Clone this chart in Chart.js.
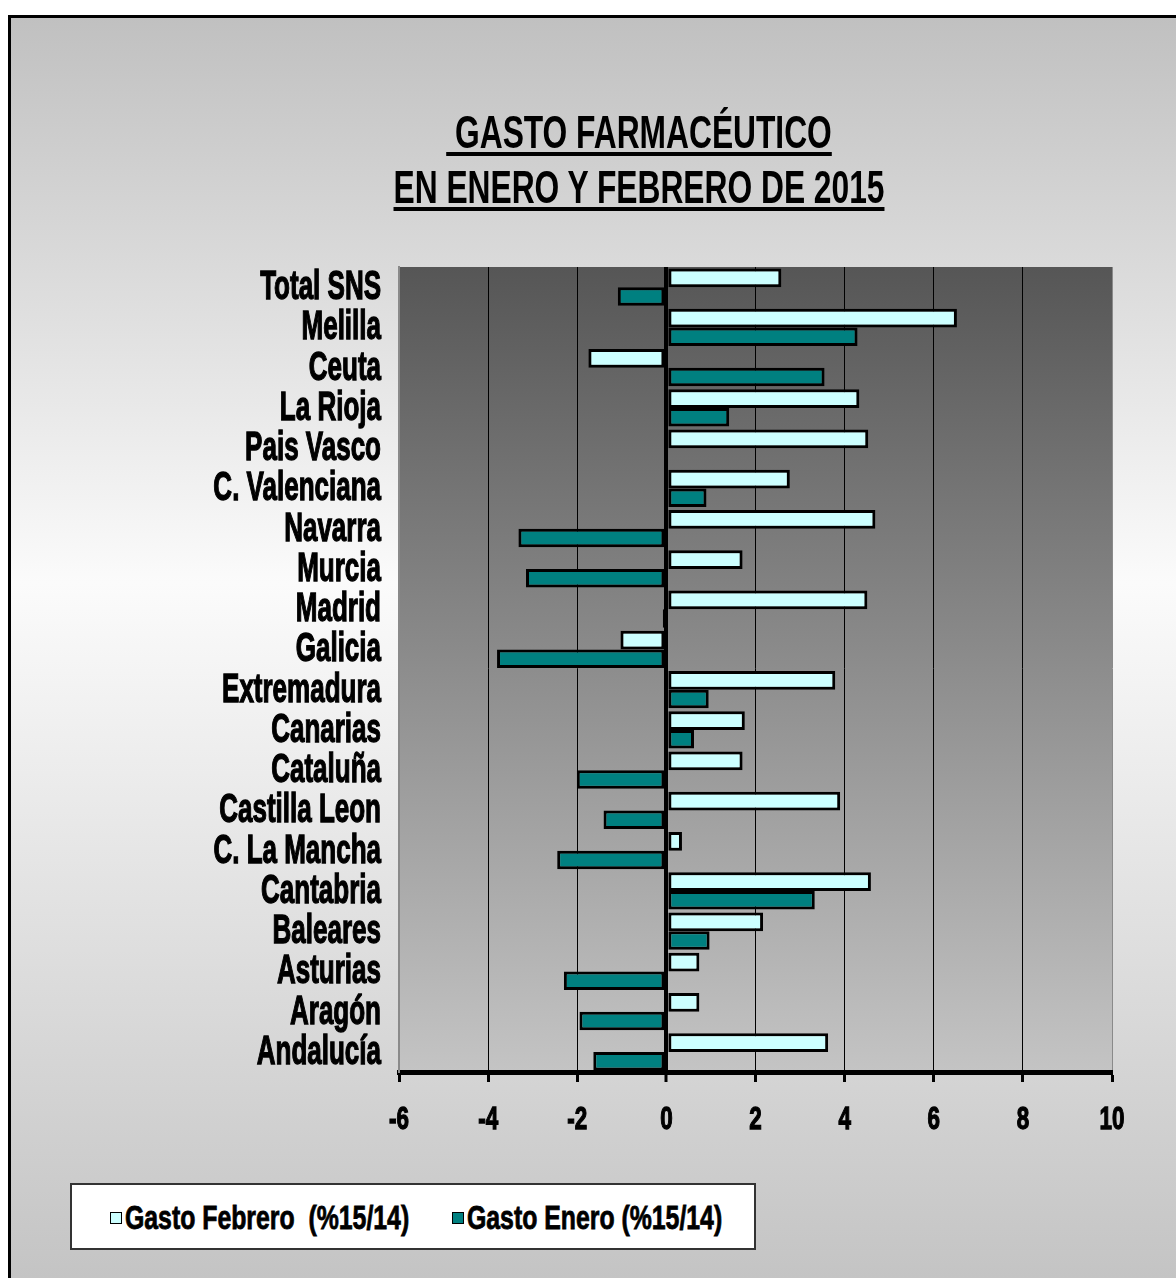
<!DOCTYPE html>
<html>
<head>
<meta charset="utf-8">
<script src="https://cdn.jsdelivr.net/npm/chart.js@4"></script>
<style>
  body { margin: 0; background: #fff; }
  #wrap { position: relative; width: 1176px; height: 1278px; overflow: hidden; }
  #chart { position: absolute; left: 0; top: 0; }
  .line {
    position: absolute; left: 0; width: 1278px; text-align: center;
    font-family: 'Liberation Sans', Arial, sans-serif; font-weight: bold;
    font-size: 46px; line-height: 46px; color: #000; white-space: pre;
    transform: scaleX(0.69); transform-origin: 639px 0;
  }
  .line span { text-decoration: underline; text-decoration-thickness: 4px; text-underline-offset: 4px; }
  #legend {
    position: absolute; left: 70px; top: 1183px; width: 682px; height: 63px;
    background: #fff; border: 2px solid #333;
  }
  .box { position: absolute; top: 27px; width: 10px; height: 10px; border: 1.5px solid #000; }
  .txt {
    position: absolute; top: 14px; font-family: 'Liberation Sans', Arial, sans-serif;
    font-size: 34px; line-height: 36px; font-weight: bold; white-space: pre; color: #000;
    -webkit-text-stroke: 0.8px #000;
    transform: scaleX(0.73); transform-origin: 0 0;
  }
</style>
</head>
<body>
<div id="wrap">
  <canvas id="chart" width="1176" height="1278"></canvas>
  <div class="line" style="top:109px"><span> GASTO FARMACÉUTICO</span></div>
  <div class="line" style="top:164px"><span>EN ENERO Y FEBRERO DE 2015</span></div>
  <div id="legend"></div>
</div>
<script>
// categorias, de arriba a abajo
const regiones = ['Total SNS', 'Melilla', 'Ceuta', 'La Rioja', 'Pais Vasco', 'C. Valenciana',
  'Navarra', 'Murcia', 'Madrid', 'Galicia', 'Extremadura', 'Canarias', 'Cataluña',
  'Castilla Leon', 'C. La Mancha', 'Cantabria', 'Baleares', 'Asturias', 'Aragón', 'Andalucía'];

// % variacion 15/14
const gastoFebrero = [2.58, 6.52, -1.75, 4.33, 4.53, 2.77, 4.69, 1.71, 4.51, -1.03,
  3.79, 1.76, 1.71, 3.90, 0.35, 4.59, 2.17, 0.74, 0.74, 3.63];
const gastoEnero = [-1.09, 4.29, 3.55, 1.41, 0, 0.90, -3.32, -3.15, -0.08, -3.80,
  0.95, 0.62, -2.01, -1.41, -2.45, 3.33, 0.97, -2.30, -1.95, -1.64];

const xTicks = [-6, -4, -2, 0, 2, 4, 6, 8, 10];

const fondo = {
    id: 'fondo',
    beforeDraw(chart) {
        const ctx = chart.ctx;
        const W = chart.width, H = chart.height;
        ctx.save();
        ctx.fillStyle = '#fff';
        ctx.fillRect(0, 0, W, H);
        const g = ctx.createLinearGradient(0, 15, 0, H);
        g.addColorStop(0, '#c0c0c0');
        g.addColorStop(0.45, '#fbfbfb');
        g.addColorStop(1, '#c4c4c4');
        ctx.fillStyle = g;
        ctx.fillRect(8, 15, W, H);
        ctx.strokeStyle = '#000';
        ctx.lineWidth = 3;
        ctx.beginPath();
        ctx.moveTo(9.5, H);
        ctx.lineTo(9.5, 16.5);
        ctx.lineTo(W, 16.5);
        ctx.stroke();

        const a = chart.chartArea;
        const pg = ctx.createLinearGradient(0, a.top, 0, a.bottom);
        pg.addColorStop(0, '#565656');
        pg.addColorStop(1, '#c4c4c4');
        ctx.fillStyle = pg;
        ctx.fillRect(a.left, a.top, a.right - a.left, a.bottom - a.top);
        ctx.restore();
    }
};

// texto estrecho (tipo Arial Narrow) para las etiquetas de los ejes
const etiquetas = {
    id: 'etiquetas',
    afterDraw(chart) {
        const ctx = chart.ctx;
        const ys = chart.scales.y, xs = chart.scales.x;
        const escribir = (txt, x, y, sx) => {
            ctx.save();
            ctx.translate(x, y);
            ctx.scale(sx, 1);
            ctx.fillText(txt, 0, 0);
            ctx.strokeText(txt, 0, 0);
            ctx.restore();
        };
        ctx.save();
        ctx.fillStyle = '#000';
        ctx.strokeStyle = '#000';
        ctx.lineWidth = 1.3;
        ctx.textBaseline = 'middle';
        ctx.font = "bold 40px 'Liberation Sans', Arial, sans-serif";
        ctx.textAlign = 'right';
        ys.ticks.forEach((t, i) => {
            escribir(chart.data.labels[t.value], ys.right - 18, ys.getPixelForTick(i) + 1, 0.65);
        });
        ctx.font = "bold 32px 'Liberation Sans', Arial, sans-serif";
        ctx.textAlign = 'center';
        xs.ticks.forEach((t, i) => {
            escribir(String(t.value), xs.getPixelForTick(i), xs.top + 48, 0.7);
        });
        ctx.restore();
    }
};

const chart = new Chart(document.getElementById('chart'), {
    type: 'bar',
    data: {
        labels: regiones,
        datasets: [
            { label: 'Gasto Febrero  (%15/14)', data: gastoFebrero, backgroundColor: '#ccffff', borderColor: '#000', borderWidth: 3, borderSkipped: false },
            { label: 'Gasto Enero (%15/14)', data: gastoEnero, backgroundColor: '#008080', borderColor: '#000', borderWidth: 3, borderSkipped: false },
        ]
    },
    options: {
        indexAxis: 'y',
        responsive: false,
        animation: false,
        layout: { padding: { top: 267, right: 64, bottom: 150, left: 0 } },
        plugins: {
            legend: { display: false },
            title: { display: false },
            tooltip: { enabled: false }
        },
        datasets: { bar: { barPercentage: 1, categoryPercentage: 0.92 } },
        scales: {
            x: {
                min: -6, max: 10,
                afterFit: s => { s.height = 56; },
                afterBuildTicks: s => { s.ticks = xTicks.map(v => ({ value: v })); },
                ticks: { display: false },
                grid: {
                    color: c => (c.tick && (c.tick.value === -6 || c.tick.value === 10)) ? '#8a8a8a' : '#000',
                    lineWidth: c => (c.tick && c.tick.value === 0) ? 4 : 1,
                    tickColor: '#000', tickWidth: 3, tickLength: 10
                },
                border: { color: '#000', width: 5 }
            },
            y: {
                afterFit: s => { s.width = 399; },
                ticks: { display: false, autoSkip: false },
                grid: { drawOnChartArea: false, drawTicks: false },
                border: { color: '#8a8a8a', width: 2 }
            }
        }
    },
    plugins: [fondo, etiquetas]
});

// leyenda en caja blanca bajo el grafico
const legend = document.getElementById('legend');
const boxLeft = [38, 380];
chart.data.datasets.forEach((ds, i) => {
    const b = document.createElement('div');
    b.className = 'box';
    b.style.left = boxLeft[i] + 'px';
    b.style.background = ds.backgroundColor;
    legend.appendChild(b);
    const t = document.createElement('div');
    t.className = 'txt';
    t.style.left = (boxLeft[i] + 15) + 'px';
    t.textContent = ds.label;
    legend.appendChild(t);
});
</script>
</body>
</html>
